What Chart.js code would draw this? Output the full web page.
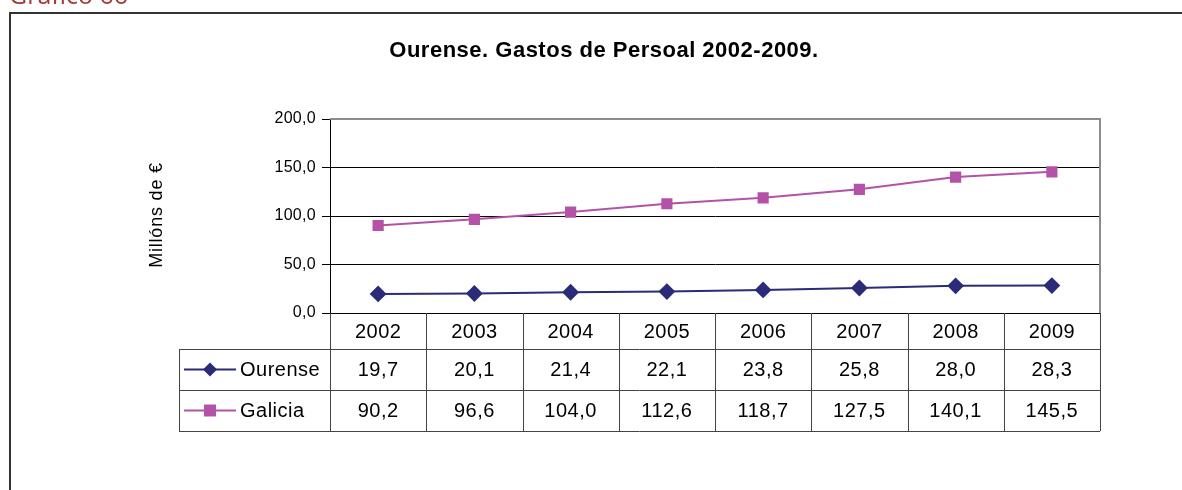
<!DOCTYPE html>
<html lang="gl">
<head>
  <meta charset="UTF-8" />
  <title>Ourense. Gastos de Persoal 2002-2009.</title>
  <script src="https://cdn.jsdelivr.net/npm/chart.js"></script>
  <style>
    html, body { margin: 0; padding: 0; background: #fff; }
    #wrap { width: 1182px; height: 490px; position: relative; }
  </style>
</head>
<body>
  <div id="wrap"><canvas id="chart"></canvas></div>

  <script>
    const years = ['2002', '2003', '2004', '2005', '2006', '2007', '2008', '2009'];
    const ourense = [19.7, 20.1, 21.4, 22.1, 23.8, 25.8, 28.0, 28.3];
    const galicia = [90.2, 96.6, 104.0, 112.6, 118.7, 127.5, 140.1, 145.5];
    const yTicks = [0, 50, 100, 150, 200];

    const titleText = 'Ourense. Gastos de Persoal 2002-2009.';
    const yLabel = 'Millóns de €';
    const captionText = 'Gráfico 66';

    const fmt = v => v.toFixed(1).replace('.', ',');
    const FONT = '"Liberation Sans", Arial, sans-serif';

    // frame, title, axis label and the data table under the plot
    const decor = {
      id: 'decor',
      beforeDraw(chart) {
        // the original lettering is a bit wider than Liberation Sans
        chart.ctx.letterSpacing = '0.3px';
      },
      beforeDatasetsDraw(chart) {
        const { ctx, chartArea: a } = chart;
        ctx.save();
        ctx.strokeStyle = '#8c8c8c';
        ctx.lineWidth = 2;
        ctx.beginPath();
        ctx.moveTo(a.left, a.top);
        ctx.lineTo(a.right, a.top);
        ctx.lineTo(a.right, a.bottom);
        ctx.stroke();
        ctx.restore();
      },
      afterDraw(chart) {
        const { ctx, chartArea: a } = chart;
        const x = chart.scales.x;
        ctx.save();

        // outer frame
        ctx.strokeStyle = '#333';
        ctx.lineWidth = 2;
        ctx.beginPath();
        ctx.moveTo(10, 495);
        ctx.lineTo(10, 13);
        ctx.lineTo(1190, 13);
        ctx.stroke();

        // caption, cut at the top edge
        ctx.letterSpacing = '0px';
        ctx.fillStyle = '#a33a35';
        ctx.font = '25px "Open Sans", sans-serif';
        ctx.textAlign = 'left';
        ctx.textBaseline = 'alphabetic';
        ctx.fillText(captionText, 9, 4);

        // title
        ctx.letterSpacing = '0.5px';
        ctx.fillStyle = '#000';
        ctx.font = 'bold 22px ' + FONT;
        ctx.textAlign = 'center';
        ctx.textBaseline = 'middle';
        ctx.fillText(titleText, 604, 51);

        // y axis label
        ctx.letterSpacing = '0.8px';
        ctx.save();
        ctx.translate(157, 215);
        ctx.rotate(-Math.PI / 2);
        ctx.font = '18px ' + FONT;
        ctx.fillText(yLabel, 0, 0);
        ctx.restore();

        // data table
        const colW = (a.right - a.left) / years.length;
        const r0 = a.bottom, r1 = r0 + 36, r2 = r1 + 41, r3 = r2 + 41;
        const tLeft = 179;
        ctx.strokeStyle = '#444';
        ctx.lineWidth = 1;
        ctx.beginPath();
        for (let i = 0; i <= years.length; i++) {
          const cx = Math.round(a.left + i * colW) + 0.5;
          ctx.moveTo(cx, r0);
          ctx.lineTo(cx, r3);
        }
        ctx.moveTo(tLeft + 0.5, r1);
        ctx.lineTo(tLeft + 0.5, r3);
        [r1, r2, r3].forEach(ry => {
          ctx.moveTo(tLeft, ry + 0.5);
          ctx.lineTo(a.right, ry + 0.5);
        });
        ctx.stroke();

        ctx.letterSpacing = '0.5px';
        ctx.fillStyle = '#000';
        ctx.font = '20px ' + FONT;
        ctx.textAlign = 'center';
        years.forEach((yr, i) => {
          const cx = x.getPixelForValue(i);
          ctx.fillText(yr, cx, (r0 + r1) / 2 + 1);
          ctx.fillText(fmt(ourense[i]), cx, (r1 + r2) / 2 + 1);
          ctx.fillText(fmt(galicia[i]), cx, (r2 + r3) / 2 + 1);
        });

        // legend keys inside the table
        chart.data.datasets.forEach((ds, k) => {
          const ry = k === 0 ? (r1 + r2) / 2 : (r2 + r3) / 2;
          ctx.strokeStyle = ds.borderColor;
          ctx.lineWidth = 2;
          ctx.beginPath();
          ctx.moveTo(184, ry);
          ctx.lineTo(236, ry);
          ctx.stroke();
          ctx.fillStyle = ds.borderColor;
          ctx.beginPath();
          if (k === 0) {
            ctx.moveTo(210, ry - 7);
            ctx.lineTo(217, ry);
            ctx.lineTo(210, ry + 7);
            ctx.lineTo(203, ry);
          } else {
            ctx.rect(204, ry - 6, 12, 12);
          }
          ctx.closePath();
          ctx.fill();
          ctx.fillStyle = '#000';
          ctx.font = '20px ' + FONT;
          ctx.textAlign = 'left';
          ctx.fillText(ds.label, 240, ry + 1);
        });

        ctx.restore();
      }
    };

    new Chart(document.getElementById('chart'), {
      type: 'line',
      data: {
        labels: years,
        datasets: [
          {
            label: 'Ourense',
            data: ourense,
            borderColor: '#2b2b78',
            backgroundColor: '#2b2b78',
            borderWidth: 2,
            pointStyle: 'rectRot',
            pointRadius: 7,
            pointHoverRadius: 7,
            tension: 0
          },
          {
            label: 'Galicia',
            data: galicia,
            borderColor: '#b452a8',
            backgroundColor: '#b452a8',
            borderWidth: 2,
            pointStyle: 'rect',
            pointRadius: 6.5,
            pointHoverRadius: 6.5,
            tension: 0
          }
        ]
      },
      options: {
        responsive: true,
        maintainAspectRatio: false,
        animation: false,
        layout: { padding: { left: 0, top: 119, right: 82, bottom: 177 } },
        plugins: {
          legend: { display: false },
          title: { display: false },
          tooltip: { enabled: false }
        },
        scales: {
          x: {
            type: 'category',
            offset: true,
            grid: { display: false, drawTicks: false },
            ticks: { display: false },
            border: { display: true, color: '#000', width: 1 },
            afterFit: s => { s.height = 0; }
          },
          y: {
            min: 0,
            max: 200,
            afterBuildTicks: s => { s.ticks = yTicks.map(v => ({ value: v })); },
            afterFit: s => { s.width = 330; },
            grid: { color: '#000', lineWidth: 1, tickLength: 8, tickColor: '#000' },
            border: { display: true, color: '#000', width: 1 },
            ticks: {
              padding: 6,
              color: '#000',
              font: { family: FONT, size: 16 },
              callback: v => fmt(v)
            }
          }
        }
      },
      plugins: [decor]
    });
  </script>
</body>
</html>
